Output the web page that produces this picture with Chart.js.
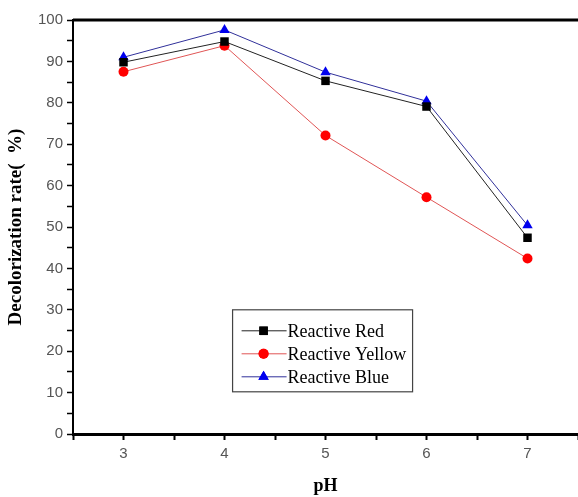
<!DOCTYPE html>
<html lang="en">
<head>
  <meta charset="UTF-8">
  <title>Decolorization rate vs pH</title>
  <script src="https://cdn.jsdelivr.net/npm/chart.js"></script>
</head>
<style>
  body { margin: 0; overflow: hidden; background: #fff; }
  .chart-container { width: 584px; height: 497px; position: relative; }
</style>
<body>
  <div class="chart-container">
    <canvas id="chartCanvas"></canvas>
  </div>

  <script>
    // data
    const phValues = [3, 4, 5, 6, 7];
    const redRate = [89.8, 94.8, 85.3, 79.1, 47.4];
    const yellowRate = [87.5, 93.8, 72.1, 57.2, 42.4];
    const blueRate = [91.0, 97.6, 87.4, 80.4, 50.4];
    const seriesNames = ['Reactive Red', 'Reactive Yellow', 'Reactive Blue'];

    const toPoints = (vals) => phValues.map((x, i) => ({ x: x, y: vals[i] }));

    // legend box drawn inside the plot, like the original figure
    const boxLegend = {
      id: 'boxLegend',
      afterDraw(chart) {
        const ctx = chart.ctx;
        const area = chart.chartArea;
        const xs = chart.scales.x;
        const ys = chart.scales.y;
        // top border of the frame
        ctx.save();
        ctx.strokeStyle = '#000';
        ctx.lineWidth = 3;
        ctx.beginPath();
        ctx.moveTo(area.left, area.top);
        ctx.lineTo(area.right, area.top);
        ctx.stroke();

        const left = xs.getPixelForValue(4.08);
        const top = ys.getPixelForValue(30);
        const w = 180, rowH = 23;
        const h = 82;
        ctx.fillStyle = '#fff';
        ctx.fillRect(left, top, w, h);
        ctx.strokeStyle = '#444';
        ctx.lineWidth = 1.2;
        ctx.strokeRect(left, top, w, h);
        ctx.font = '18px "Liberation Serif", "Times New Roman", serif';
        ctx.textBaseline = 'middle';
        chart.data.datasets.forEach((ds, i) => {
          const cy = top + 21 + i * rowH;
          ctx.strokeStyle = ds.borderColor;
          ctx.lineWidth = 1;
          ctx.beginPath();
          ctx.moveTo(left + 9, cy);
          ctx.lineTo(left + 54, cy);
          ctx.stroke();
          ctx.fillStyle = ds.pointBackgroundColor;
          ctx.beginPath();
          Chart.helpers.drawPoint(ctx, {
            pointStyle: ds.pointStyle,
            radius: ds.pointRadius,
            rotation: 0,
            borderWidth: 0
          }, left + 31, cy);
          ctx.fill();
          ctx.fillStyle = '#000';
          ctx.fillText(ds.label, left + 55, cy + 1);
        });
        ctx.restore();
      }
    };

    const ctx = document.getElementById('chartCanvas').getContext('2d');
    const chart = new Chart(ctx, {
      type: 'line',
      data: {
        datasets: [{
          label: seriesNames[0],
          data: toPoints(redRate),
          borderColor: '#222222',
          borderWidth: 1,
          pointStyle: 'rect',
          pointRadius: 6,
          pointBackgroundColor: '#000000',
          pointBorderWidth: 0,
          fill: false
        }, {
          label: seriesNames[1],
          data: toPoints(yellowRate),
          borderColor: '#e05555',
          borderWidth: 1,
          pointStyle: 'circle',
          pointRadius: 5,
          pointBackgroundColor: '#ff0000',
          pointBorderWidth: 0,
          fill: false
        }, {
          label: seriesNames[2],
          data: toPoints(blueRate),
          borderColor: '#30309a',
          borderWidth: 1,
          pointStyle: 'triangle',
          pointRadius: 6,
          pointBackgroundColor: '#0000ee',
          pointBorderWidth: 0,
          fill: false
        }]
      },
      plugins: [boxLegend],
      options: {
        animation: { duration: 0 },
        responsive: true,
        maintainAspectRatio: false,
        layout: { padding: { top: 20, right: 0, left: 0, bottom: 0 } },
        plugins: {
          legend: { display: false },
          tooltip: { enabled: false }
        },
        scales: {
          x: {
            type: 'linear',
            position: 'bottom',
            min: 2.5,
            max: 7.5,
            afterFit: (s) => { s.height = 63; },
            border: { color: '#000', width: 3 },
            grid: {
              drawOnChartArea: false,
              drawTicks: true,
              tickLength: 6,
              tickColor: '#000',
              tickWidth: 2
            },
            ticks: {
              stepSize: 0.5,
              autoSkip: false,
              maxRotation: 0,
              color: '#555',
              padding: 5,
              font: { family: '"Liberation Sans", Arial, sans-serif', size: 15 },
              callback: (v) => Number.isInteger(v) && v > 2.5 && v < 7.5 ? v : ''
            },
            title: {
              display: true,
              text: 'pH',
              color: '#000',
              padding: { top: 6, bottom: 0 },
              font: { family: '"Liberation Serif", "Times New Roman", serif', size: 18, weight: 'bold' }
            }
          },
          y: {
            min: 0,
            max: 100,
            afterFit: (s) => { s.width = 73; },
            border: { color: '#000', width: 2 },
            grid: {
              drawOnChartArea: false,
              drawTicks: true,
              tickLength: 6,
              tickColor: '#000',
              tickWidth: 1.5
            },
            ticks: {
              stepSize: 5,
              autoSkip: false,
              color: '#555',
              padding: 4,
              font: { family: '"Liberation Sans", Arial, sans-serif', size: 15 },
              callback: (v) => v % 10 === 0 ? v : ''
            },
            title: {
              display: true,
              text: 'Decolorization rate(  %)',
              color: '#000',
              padding: { top: 5, bottom: 0 },
              font: { family: '"Liberation Serif", "Times New Roman", serif', size: 19, weight: 'bold' }
            }
          }
        }
      }
    });
  </script>
</body>
</html>
